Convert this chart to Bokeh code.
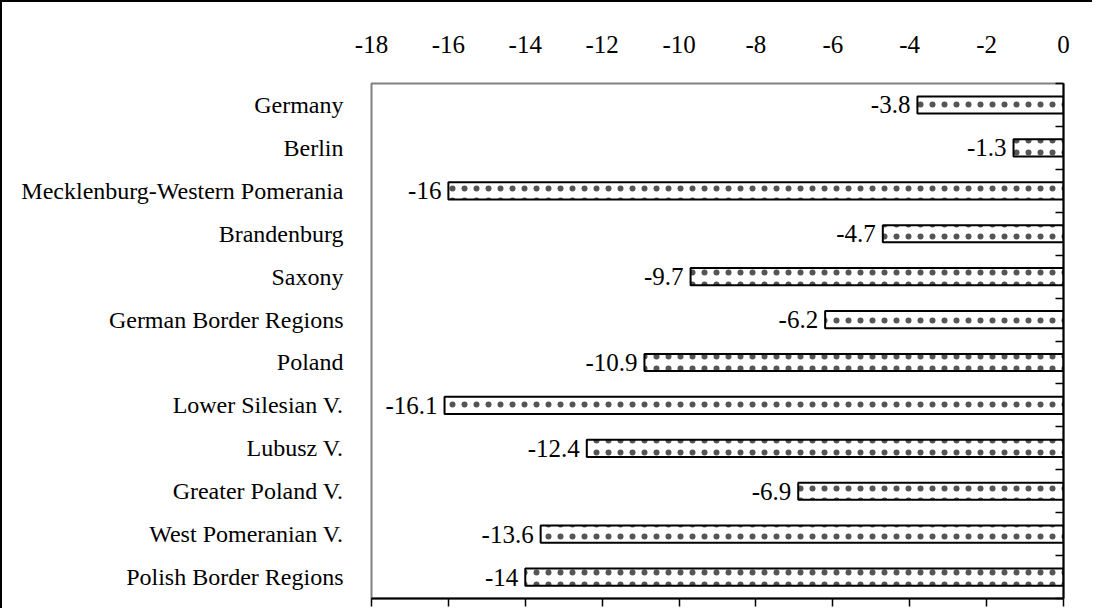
from bokeh.plotting import figure
from bokeh.models import Range1d, LinearAxis, FixedTicker, ColumnDataSource, CustomLabelingPolicy
from bokeh.core.properties import value
from bokeh.embed import file_html
from bokeh.resources import INLINE

categories = ["Germany", "Berlin", "Mecklenburg-Western Pomerania", "Brandenburg",
              "Saxony", "German Border Regions", "Poland", "Lower Silesian V.",
              "Lubusz V.", "Greater Poland V.", "West Pomeranian V.", "Polish Border Regions"]
values = [-3.8, -1.3, -16.0, -4.7, -9.7, -6.2, -10.9, -16.1, -12.4, -6.9, -13.6, -14.0]
x_ticks = [-18, -16, -14, -12, -10, -8, -6, -4, -2, 0]

FONT = "Liberation Serif"
n = len(categories)
ypos = [n - i - 0.5 for i in range(n)]

src = ColumnDataSource(dict(y=ypos, val=values, zero=[0] * n,
                            lab=[f"{v:g}" for v in values]))

p = figure(width=1092, height=608, output_backend="svg", toolbar_location=None,
           x_range=Range1d(-18, 0), y_range=Range1d(0, n),
           x_axis_location=None, y_axis_location=None,
           min_border_left=369, min_border_right=31, min_border_top=81, min_border_bottom=0)
p.styles = {"border-top": "2px solid black", "border-left": "2px solid black"}
p.xgrid.visible = False
p.ygrid.visible = False
p.outline_line_color = "#808080"
p.outline_line_width = 2
p.background_fill_color = "white"
p.border_fill_color = "white"

p.hbar(y="y", left="val", right="zero", height=0.4, source=src,
       fill_color="white", line_color="black", line_width=2,
       hatch_pattern="dot", hatch_color="#555555", hatch_scale=12, hatch_weight=1.3)

p.text(x="val", y="y", text="lab", source=src, text_align="right", text_baseline="middle",
       x_offset=-7, text_font=value(FONT), text_font_size="25px", text_color="black")

no_labels = CustomLabelingPolicy(code="for (const i of indices) { indices.unset(i) }\nreturn indices")

# left category labels
la = LinearAxis(ticker=FixedTicker(ticks=ypos),
                major_label_overrides={y: c for y, c in zip(ypos, categories)})
la.axis_line_color = None
la.major_tick_line_color = None
la.minor_tick_line_color = None
la.major_tick_out = 0
la.major_tick_in = 0
la.major_label_standoff = 28
la.major_label_text_font = FONT
la.major_label_text_font_size = "24px"
la.major_label_text_color = "black"
p.add_layout(la, "left")

# top labels
top = LinearAxis(ticker=FixedTicker(ticks=x_ticks),
                 major_label_overrides={t: str(t) for t in x_ticks})
top.axis_line_color = None
top.major_tick_line_color = None
top.minor_tick_line_color = None
top.major_tick_out = 0
top.major_label_standoff = 31
top.major_label_text_font = FONT
top.major_label_text_font_size = "25px"
top.major_label_text_color = "black"
p.add_layout(top, "above")

# bottom axis with ticks only
bot = LinearAxis(ticker=FixedTicker(ticks=x_ticks), major_label_policy=no_labels)
bot.axis_line_color = "black"
bot.axis_line_width = 2
bot.major_tick_line_color = "black"
bot.major_tick_line_width = 1.5
bot.major_tick_out = 8
bot.major_tick_in = 0
bot.minor_tick_line_color = None
bot.major_label_text_font_size = "1px"
bot.major_label_standoff = 0
p.add_layout(bot, "below")

# right axis at zero with boundary ticks
ra = LinearAxis(ticker=FixedTicker(ticks=list(range(n + 1))), major_label_policy=no_labels)
ra.axis_line_color = "black"
ra.axis_line_width = 2
ra.major_tick_line_color = "black"
ra.major_tick_line_width = 1.5
ra.major_tick_in = 8
ra.major_tick_out = 0
ra.minor_tick_line_color = None
ra.major_label_text_font_size = "1px"
ra.major_label_standoff = 0
p.add_layout(ra, "right")

open("out.html", "w").write(file_html(p, INLINE))
